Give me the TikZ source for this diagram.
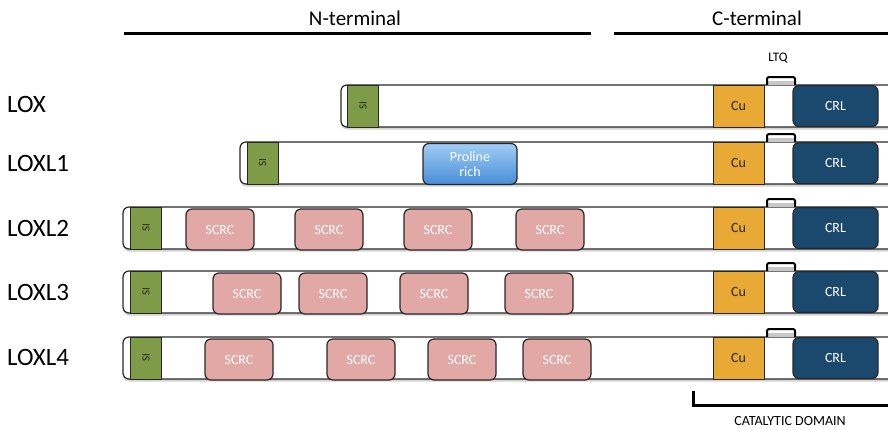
\documentclass[tikz,border=0pt]{standalone}
\usepackage{fontspec}
\setmainfont{Carlito}
\usetikzlibrary{shadows}
\definecolor{sigreen}{RGB}{126,156,72}
\definecolor{cuorange}{RGB}{232,170,52}
\definecolor{crlblue}{RGB}{27,73,110}
\definecolor{scrcpink}{RGB}{225,168,165}
\definecolor{protop}{RGB}{160,205,245}
\definecolor{probot}{RGB}{72,140,215}
\definecolor{ltqgray}{RGB}{200,200,200}
\definecolor{outline}{RGB}{40,40,40}
\begin{document}
\begin{tikzpicture}[x=1pt,y=-1pt,
  bar/.style={draw=outline, line width=1.2pt, fill=white, rounded corners=6pt,
    minimum height=42pt, minimum width=820pt, inner sep=0pt, outer sep=0pt, anchor=west,
    drop shadow={shadow xshift=0pt, shadow yshift=-2.5pt, opacity=0.35}},
  sibox/.style={draw=outline, line width=1pt, fill=sigreen, minimum width=31pt,
    minimum height=42pt, inner sep=0pt, text=black!85,
    font=\fontsize{11}{11}\selectfont},
  scrc/.style={draw=outline, line width=1.2pt, fill=scrcpink, rounded corners=6pt,
    minimum width=68pt, minimum height=41pt, inner sep=0pt, text=white,
    font=\fontsize{14}{14}\selectfont},
  cubox/.style={draw=outline, line width=0.8pt, fill=cuorange, minimum width=51pt,
    minimum height=42pt, inner sep=0pt, text=black!85, font=\fontsize{14}{14}\selectfont},
  crlbox/.style={draw=outline, line width=1.2pt, fill=crlblue, rounded corners=6pt,
    minimum width=85pt, minimum height=41pt, inner sep=0pt, text=white,
    font=\fontsize{14}{14}\selectfont},
  prolbox/.style={draw=outline, line width=1.2pt, top color=protop, bottom color=probot,
    rounded corners=6pt, minimum width=94pt, minimum height=41pt, inner sep=0pt,
    text=white, align=center, font=\fontsize{14}{15}\selectfont},
  rowlabel/.style={anchor=west, inner sep=0pt, font=\fontsize{25}{25}\selectfont},
  thickline/.style={line width=3pt},
  ltqfill/.style={fill=ltqgray},
  ltqline/.style={line width=2pt, rounded corners=1.5pt},
]
\useasboundingbox (0,0) rectangle (888,429);
\clip (0,0) rectangle (888,429);

% headers
\node[font=\fontsize{21}{21}\selectfont] (nterm) at (355,18) {N-terminal};
\node[font=\fontsize{21}{21}\selectfont] (cterm) at (757,18) {C-terminal};
\coordinate (n1) at (124,33); \coordinate (n2) at (591,33);
\coordinate (c1) at (614,33); \coordinate (c2) at (892,33);
\draw[thickline] (n1) -- (n2);
\draw[thickline] (c1) -- (c2);
\node[font=\fontsize{13}{13}\selectfont] (ltq) at (778,58) {LTQ};

% row labels
\node[rowlabel] (lLOX)   at (7,104) {LOX};
\node[rowlabel] (lLOXL1) at (7,163) {LOXL1};
\node[rowlabel] (lLOXL2) at (7,228) {LOXL2};
\node[rowlabel] (lLOXL3) at (7,292) {LOXL3};
\node[rowlabel] (lLOXL4) at (7,357) {LOXL4};

% bars
\node[bar] (b0) at (341,106) {};
\node[bar] (b1) at (240,163) {};
\node[bar] (b2) at (123,228) {};
\node[bar] (b3) at (123,292) {};
\node[bar] (b4) at (123,358) {};

% SI boxes
\node[sibox] (si0) at (363,106) {\rotatebox{90}{SI}};
\node[sibox] (si1) at (262.5,163) {\rotatebox{90}{SI}};
\node[sibox] (si2) at (146,228) {\rotatebox{90}{SI}};
\node[sibox] (si3) at (146,292) {\rotatebox{90}{SI}};
\node[sibox] (si4) at (146,358) {\rotatebox{90}{SI}};

% proline
\node[prolbox] (pro) at (470,164) {Proline\\rich};

% SCRC
\node[scrc] (s21) at (220,229.5) {SCRC};
\node[scrc] (s22) at (329,229.5) {SCRC};
\node[scrc] (s23) at (438,229.5) {SCRC};
\node[scrc] (s24) at (550,229.5) {SCRC};
\node[scrc] (s31) at (247,293.5) {SCRC};
\node[scrc] (s32) at (333,293.5) {SCRC};
\node[scrc] (s33) at (434,293.5) {SCRC};
\node[scrc] (s34) at (539,293.5) {SCRC};
\node[scrc] (s41) at (239,359.5) {SCRC};
\node[scrc] (s42) at (361,359.5) {SCRC};
\node[scrc] (s43) at (462,359.5) {SCRC};
\node[scrc] (s44) at (557,359.5) {SCRC};

% Cu, CRL, LTQ brackets
\foreach \r/\y in {0/106,1/163,2/228,3/292,4/358}{
  \node[cubox] (cu\r) at (738.5,\y) {Cu};
  \node[crlbox] (crl\r) at (835.5,\y) {CRL};
  \fill[ltqfill] (768,\y-21-4.5) rectangle (794,\y-21);
  \draw[ltqline] (767,\y-21) -- (767,\y-21-8) -- (795,\y-21-8) -- (795,\y-21);
}

% catalytic domain bracket
\coordinate (k1) at (693,391); \coordinate (k2) at (693,405); \coordinate (k3) at (892,405);
\draw[thickline] (k1) -- (k2) -- (k3);
\node[font=\fontsize{14}{14}\selectfont] (cat) at (790,421) {CATALYTIC DOMAIN};
\end{tikzpicture}
\end{document}
